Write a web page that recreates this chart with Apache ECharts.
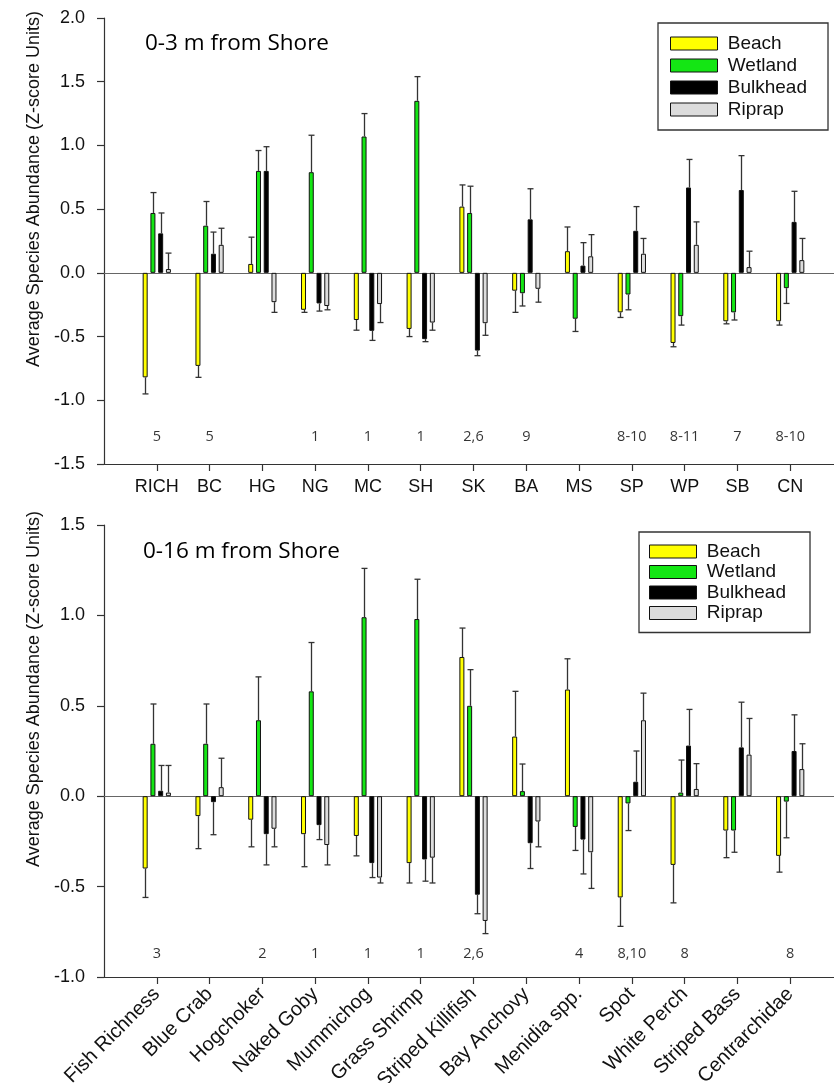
<!DOCTYPE html>
<html>
<head>
<meta charset="utf-8">
<script src="https://cdn.jsdelivr.net/npm/echarts@6/dist/echarts.min.js"></script>
<style>
html,body{margin:0;padding:0;background:#fff;}
#chart{width:834px;height:1083px;}
</style>
</head>
<body>
<div id="chart"></div>
<script>
// ---------- DATA ----------
const seriesNames = ['Beach', 'Wetland', 'Bulkhead', 'Riprap'];

// Panel 1: 0-3 m from shore
const cats3 = ['RICH','BC','HG','NG','MC','SH','SK','BA','MS','SP','WP','SB','CN'];
const beach3    = [-0.82,-0.73, 0.07,-0.29,-0.37,-0.44, 0.52,-0.14, 0.17,-0.31,-0.55,-0.38,-0.38];
const beach3Se  = [ 0.13, 0.09, 0.21, 0.02, 0.08, 0.06, 0.17, 0.17, 0.19, 0.04, 0.03, 0.02, 0.03];
const wetland3  = [ 0.47, 0.37, 0.80, 0.79, 1.07, 1.35, 0.47,-0.16,-0.36,-0.17,-0.34,-0.31,-0.12];
const wetland3Se= [ 0.16, 0.19, 0.16, 0.29, 0.18, 0.19, 0.21, 0.10, 0.10, 0.12, 0.07, 0.06, 0.12];
const bulk3     = [ 0.31, 0.15, 0.80,-0.24,-0.455,-0.52,-0.61, 0.42, 0.057, 0.33, 0.67, 0.65, 0.40];
const bulk3Se   = [ 0.16, 0.17, 0.19, 0.06, 0.075, 0.02, 0.04, 0.24, 0.18, 0.19, 0.22, 0.27, 0.24];
const rip3      = [ 0.03, 0.22,-0.23,-0.26,-0.245,-0.39,-0.395,-0.125, 0.13, 0.15, 0.22, 0.045, 0.10];
const rip3Se    = [ 0.125,0.13, 0.08, 0.03, 0.145, 0.06, 0.095, 0.105, 0.17, 0.12, 0.18, 0.125, 0.17];
const notes3    = ['5','5','','1','1','1','2,6','9','','8-10','8-11','7','8-10'];

// Panel 2: 0-16 m from shore
const cats16 = ['Fish Richness','Blue Crab','Hogchoker','Naked Goby','Mummichog','Grass Shrimp','Striped Killifish','Bay Anchovy','Menidia spp.','Spot','White Perch','Striped Bass','Centrarchidae'];
const beach16    = [-0.40,-0.11,-0.13,-0.21,-0.22,-0.37, 0.77, 0.33, 0.59,-0.56,-0.38,-0.19,-0.33];
const beach16Se  = [ 0.16, 0.18, 0.15, 0.18, 0.11, 0.11, 0.16, 0.25, 0.17, 0.16, 0.21, 0.15, 0.09];
const wetland16  = [ 0.29, 0.29, 0.42, 0.58, 0.99, 0.98, 0.50, 0.028,-0.17,-0.04, 0.02,-0.19,-0.03];
const wetland16Se= [ 0.22, 0.22, 0.24, 0.27, 0.27, 0.22, 0.20, 0.15, 0.13, 0.15, 0.18, 0.12, 0.20];
const bulk16     = [ 0.03,-0.033,-0.21,-0.16,-0.37,-0.35,-0.545,-0.26,-0.24, 0.08, 0.28, 0.27, 0.25];
const bulk16Se   = [ 0.14, 0.18, 0.17, 0.08, 0.08, 0.12, 0.105, 0.14, 0.19, 0.17, 0.20, 0.25, 0.20];
const rip16      = [ 0.02, 0.05,-0.18,-0.27,-0.45,-0.34,-0.69,-0.14,-0.31, 0.42, 0.04, 0.23, 0.15];
const rip16Se    = [ 0.15, 0.16, 0.10, 0.11, 0.03, 0.14, 0.07, 0.14, 0.20, 0.15, 0.14, 0.20, 0.14];
const notes16    = ['3','','2','1','1','1','2,6','','4','8,10','8','','8'];

const yTicks3 = [-1.5,-1.0,-0.5,0.0,0.5,1.0,1.5,2.0];
const yTicks16 = [-1.0,-0.5,0.0,0.5,1.0,1.5];

// ---------- STYLE ----------
const colors = ['#ffff00', '#14e614', '#000000', '#dcdcdc'];
const AR = 'Liberation Sans, Arial, sans-serif';
const CAL = '"Open Sans", sans-serif';
const BAR_W = 5, BAR_GAP = 0.55;
const STEP = BAR_W * (1 + BAR_GAP);
const offsets = [-1.5, -0.5, 0.5, 1.5].map(k => k * STEP);

const chart = echarts.init(document.getElementById('chart'), null, {renderer: 'canvas'});

function padCats(c) { return [''].concat(c).concat(['']); }

function barSeries(name, idx, vals, axis) {
  const s = {
    name: name, type: 'bar', xAxisIndex: axis, yAxisIndex: axis,
    barWidth: BAR_W, barGap: (BAR_GAP * 100) + '%',
    data: vals.map((v, i) => [i + 1, v]),
    itemStyle: {color: colors[idx], borderColor: '#111', borderWidth: 1},
    z: 3, silent: true
  };
  if (idx === 0) {
    s.markLine = {silent: true, symbol: 'none', label: {show: false},
      lineStyle: {color: '#666', width: 1, type: 'solid'}, data: [{yAxis: 0}], z: 2};
  }
  return s;
}

function errSeries(name, idx, vals, se, axis) {
  const off = offsets[idx];
  return {
    name: name, type: 'custom', xAxisIndex: axis, yAxisIndex: axis, z: 4, silent: true,
    data: vals.map((v, i) => [i + 1, v, se[i]]),
    renderItem: function (params, api) {
      const i = api.value(0), v = api.value(1), e = api.value(2);
      const end = v >= 0 ? v + e : v - e;
      const a = api.coord([i, v]);
      const b = api.coord([i, end]);
      const x = Math.round(a[0] + off) + 0.5;
      const st = {stroke: '#333', lineWidth: 1.3};
      return {type: 'group', children: [
        {type: 'line', shape: {x1: x, y1: a[1], x2: x, y2: b[1]}, style: st},
        {type: 'line', shape: {x1: x - 3, y1: b[1], x2: x + 3, y2: b[1]}, style: st}
      ]};
    }
  };
}

function noteSeries(notes, yPos, axis) {
  return {
    type: 'scatter', xAxisIndex: axis, yAxisIndex: axis, symbolSize: 0, silent: true,
    data: notes.map((t, i) => [i + 1, yPos, t]),
    label: {show: true, position: 'inside', formatter: p => p.data[2],
      fontFamily: CAL, fontSize: 14.5, color: '#000', textBorderWidth: 0}
  };
}

function xAxisCfg(cats, grid, rotate) {
  return {
    type: 'category', gridIndex: grid, data: padCats(cats), boundaryGap: false,
    axisLine: {onZero: false, lineStyle: {color: '#333', width: 1.2}},
    axisTick: {show: true, length: 7, inside: false, lineStyle: {color: '#333', width: 1.2},
      interval: (i) => i > 0 && i <= cats.length},
    axisLabel: {interval: 0, rotate: rotate, margin: 14,
      fontFamily: AR, fontSize: rotate ? 20 : 18, color: '#111'},
    splitLine: {show: false}
  };
}

function yAxisCfg(grid, min, max) {
  return {
    type: 'value', gridIndex: grid, min: min, max: max, interval: 0.5,
    axisLine: {show: true, onZero: false, lineStyle: {color: '#333', width: 1.2}},
    axisTick: {show: true, length: 7, lineStyle: {color: '#333', width: 1.2}},
    axisLabel: {margin: 19, fontFamily: AR, fontSize: 18, color: '#111',
      formatter: v => v.toFixed(1)},
    splitLine: {show: false}
  };
}

const legendBase = {
  orient: 'vertical', data: seriesNames, icon: 'rect',
  itemWidth: 47, itemHeight: 13,
  borderColor: '#333', borderWidth: 1.3, borderRadius: 0,
  formatter: name => ' ' + name,
  textStyle: {fontFamily: AR, fontSize: 19, color: '#111'},
  itemStyle: {borderColor: '#111', borderWidth: 1},
  selectedMode: false
};

const option = {
  backgroundColor: '#fff',
  animation: false,
  grid: [
    {left: 104, top: 18, width: 739, height: 446, outerBoundsMode: 'none', containLabel: false},
    {left: 104, top: 525, width: 739, height: 452, outerBoundsMode: 'none', containLabel: false}
  ],
  xAxis: [xAxisCfg(cats3, 0, 0), xAxisCfg(cats16, 1, 45)],
  yAxis: [yAxisCfg(0, yTicks3[0], yTicks3[yTicks3.length - 1]),
          yAxisCfg(1, yTicks16[0], yTicks16[yTicks16.length - 1])],
  legend: [
    Object.assign({}, legendBase, {left: 658, top: 23, itemGap: 3, padding: [11, 21, 11, 12]}),
    Object.assign({}, legendBase, {left: 639, top: 532, itemGap: 1.5, padding: [10, 24, 10, 10]})
  ],
  graphic: [
    {type: 'text', x: 145, y: 44, style: {text: '0-3 m from Shore', fontFamily: CAL, fontSize: 22.5,
      fill: '#000', textVerticalAlign: 'middle'}},
    {type: 'text', x: 143, y: 552, style: {text: '0-16 m from Shore', fontFamily: CAL, fontSize: 22.5,
      fill: '#000', textVerticalAlign: 'middle'}},
    {type: 'text', x: 34, y: 189, rotation: Math.PI / 2, style: {text: 'Average Species Abundance (Z-score Units)',
      fontFamily: AR, fontSize: 18, fill: '#111', textAlign: 'center', textVerticalAlign: 'middle'}},
    {type: 'text', x: 34, y: 689, rotation: Math.PI / 2, style: {text: 'Average Species Abundance (Z-score Units)',
      fontFamily: AR, fontSize: 18, fill: '#111', textAlign: 'center', textVerticalAlign: 'middle'}}
  ],
  series: [
    barSeries('Beach', 0, beach3, 0),
    barSeries('Wetland', 1, wetland3, 0),
    barSeries('Bulkhead', 2, bulk3, 0),
    barSeries('Riprap', 3, rip3, 0),
    errSeries('Beach', 0, beach3, beach3Se, 0),
    errSeries('Wetland', 1, wetland3, wetland3Se, 0),
    errSeries('Bulkhead', 2, bulk3, bulk3Se, 0),
    errSeries('Riprap', 3, rip3, rip3Se, 0),
    noteSeries(notes3, -1.29, 0),
    barSeries('Beach', 0, beach16, 1),
    barSeries('Wetland', 1, wetland16, 1),
    barSeries('Bulkhead', 2, bulk16, 1),
    barSeries('Riprap', 3, rip16, 1),
    errSeries('Beach', 0, beach16, beach16Se, 1),
    errSeries('Wetland', 1, wetland16, wetland16Se, 1),
    errSeries('Bulkhead', 2, bulk16, bulk16Se, 1),
    errSeries('Riprap', 3, rip16, rip16Se, 1),
    noteSeries(notes16, -0.87, 1)
  ]
};
chart.setOption(option);
</script>
</body>
</html>
